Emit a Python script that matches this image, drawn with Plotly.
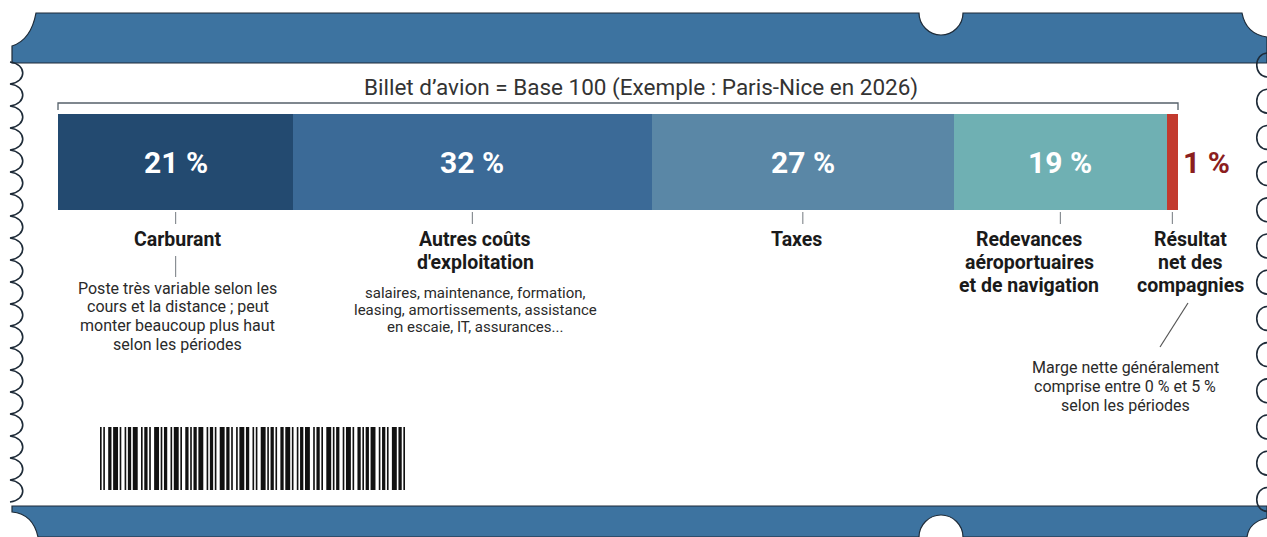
import plotly.graph_objects as go

# ---------------- data ----------------
categories = ["Carburant", "Autres coûts<br>d'exploitation", "Taxes",
              "Redevances<br>aéroportuaires<br>et de navigation",
              "Résultat<br>net des<br>compagnies"]
values = [21, 32, 27, 19, 1]
value_labels = ["21 %", "32 %", "27 %", "19 %", "1 %"]
colors = ["#234a70", "#3b6a97", "#5a87a6", "#6fb0b3", "#c23a2e"]
title_text = "Billet d’avion = Base 100 (Exemple : Paris-Nice en 2026)"
desc_fuel = ("Poste très variable selon les<br>cours et la distance ; peut<br>"
             "monter beaucoup plus haut<br>selon les périodes")
desc_other = ("salaires, maintenance, formation,<br>leasing, amortissements, assistance<br>"
              "en escaie, IT, assurances...")
desc_margin = "Marge nette généralement<br>comprise entre 0 % et 5 %<br>selon les périodes"
barcode_pattern = ("1010011011101001011011100101101001110101100101110100110101101110"
                   "0101101001110110100101110110010100111010110100110111010010110111"
                   "0010110100111010110010111010011010110111001011010011101101")

W, H = 1267, 537
def px(x): return x / W
def py(y): return 1 - y / H

BAR_L, BAR_R, BAR_T, BAR_B = 58, 1178, 114, 210
BLUE = "#3d73a0"
EDGE = "#1e2b38"
FONT = "Roboto"

fig = go.Figure()
base = 0
mids = []
for cat, v, c in zip(categories, values, colors):
    fig.add_trace(go.Bar(y=[0], x=[v], base=[base], orientation="h", width=1,
                         marker=dict(color=c, line=dict(width=0)),
                         showlegend=False, hoverinfo="skip"))
    mids.append(base + v / 2)
    base += v

shapes = []
annotations = []

def to_paper_path(p):
    out = []
    for tok in p.split():
        if "," in tok:
            a, b = tok.split(",")
            out.append(f"{px(float(a)):.5f},{py(float(b)):.5f}")
        else:
            out.append(tok)
    return " ".join(out)

# ---- ticket bands ----
top_band = ("M 36,13 L 919,13 C 919,25 929,35 941,35 C 953,35 963,25 963,13 "
            "L 1242,13 Q 1246,34 1267,37 L 1267,63 L 12,63 L 12,46 Q 31,40 36,13 Z")
bot_band = ("M 12,506 L 1267,506 L 1267,518 Q 1249,522 1247,537 L 963,537 "
            "C 963,525 953,515 941,515 C 929,515 919,525 919,537 L 38,537 "
            "Q 33,514 12,512 Z")
for p in (top_band, bot_band):
    shapes.append(dict(type="path", xref="paper", yref="paper", path=to_paper_path(p),
                       fillcolor=BLUE, line=dict(color=EDGE, width=1.2), layer="below"))

# left scalloped edge
segs = ["M 10,62"]
y = 62
while y + 22 <= 508:
    segs.append(f"C 27,{y+2} 27,{y+20} 10,{y+22}")
    y += 22
shapes.append(dict(type="path", xref="paper", yref="paper",
                   path=to_paper_path(" ".join(segs)),
                   line=dict(color=EDGE, width=1.6)))
# right scallops
yc = 65
while yc <= 502:
    p = f"M 1268,{yc-12} C 1253,{yc-12} 1253,{yc+12} 1268,{yc+12}"
    shapes.append(dict(type="path", xref="paper", yref="paper", path=to_paper_path(p),
                       line=dict(color=EDGE, width=1.6)))
    yc += 36.2

# ---- bracket above the bar ----
bracket = f"M {BAR_L},110 L {BAR_L},103 L {BAR_R},103 L {BAR_R},110"
shapes.append(dict(type="path", xref="paper", yref="paper", path=to_paper_path(bracket),
                   line=dict(color="#55606a", width=1.3)))

# ---- tick lines under each segment ----
for m in mids:
    shapes.append(dict(type="line", xref="x", yref="paper", x0=m, x1=m,
                       y0=py(212), y1=py(224), line=dict(color="#8a8f94", width=1.2)))
shapes.append(dict(type="line", xref="x", yref="paper", x0=mids[0], x1=mids[0],
                   y0=py(256), y1=py(277), line=dict(color="#8a8f94", width=1.2)))
shapes.append(dict(type="line", xref="paper", yref="paper", x0=px(1188), y0=py(303),
                   x1=px(1160), y1=py(347), line=dict(color="#555", width=1.2)))

# ---- barcode ----
bc_l, bc_r, bc_t, bc_b = 100, 405, 427, 490
mw = (bc_r - bc_l) / len(barcode_pattern)
i = 0
while i < len(barcode_pattern):
    if barcode_pattern[i] == "1":
        j = i
        while j < len(barcode_pattern) and barcode_pattern[j] == "1":
            j += 1
        shapes.append(dict(type="rect", xref="paper", yref="paper",
                           x0=px(bc_l + i * mw), x1=px(bc_l + j * mw),
                           y0=py(bc_b), y1=py(bc_t), fillcolor="#111",
                           line=dict(width=0)))
        i = j
    else:
        i += 1

# ---- texts ----
def add_lines(x, xref, y_first, text, size, spacing, color, bold=False, xshift=0):
    for n, line in enumerate(text.split("<br>")):
        t = f"<b>{line}</b>" if bold else line
        annotations.append(dict(x=x, xref=xref, y=py(y_first + n * spacing), yref="paper",
                                yanchor="middle", xanchor="center", text=t,
                                showarrow=False, xshift=xshift,
                                font=dict(family=FONT, size=size, color=color)))

add_lines(px(641), "paper", 87, title_text, 22.5, 0, "#333")

for k, (m, lab) in enumerate(zip(mids, value_labels)):
    if k < len(mids) - 1:
        annotations.append(dict(x=m, y=0, xref="x", yref="y", text=f"<b>{lab}</b>",
                                showarrow=False, yanchor="middle",
                                font=dict(family=FONT, size=30, color="white")))
    else:
        annotations.append(dict(x=base, y=0, xref="x", yref="y", text=f"<b>{lab}</b>",
                                showarrow=False, xanchor="left", yanchor="middle", xshift=3,
                                font=dict(family=FONT, size=30, color="#8b1e1e")))

label_shift = [2, 3, -6, -31, 18]
for m, cat, sh in zip(mids, categories, label_shift):
    add_lines(m, "x", 240, cat, 19.5, 22.5, "#1a1a1a", bold=True, xshift=sh)

add_lines(mids[0], "x", 288, desc_fuel, 16, 18.8, "#2a2a2a", xshift=2)
add_lines(mids[1], "x", 293, desc_other, 15, 17, "#2a2a2a", xshift=3)
add_lines(px(1125), "paper", 367, desc_margin, 16, 19, "#2a2a2a")

fig.update_layout(
    width=W, height=H, autosize=False,
    margin=dict(l=0, r=0, t=0, b=0),
    paper_bgcolor="white", plot_bgcolor="rgba(0,0,0,0)",
    barmode="overlay", bargap=0,
    xaxis=dict(range=[0, 100], domain=[px(BAR_L), px(BAR_R)], visible=False, fixedrange=True),
    yaxis=dict(range=[-0.5, 0.5], domain=[py(BAR_B), py(BAR_T)], visible=False, fixedrange=True),
    shapes=shapes, annotations=annotations, showlegend=False,
)
fig.write_html("out.html", config={"displayModeBar": False})
